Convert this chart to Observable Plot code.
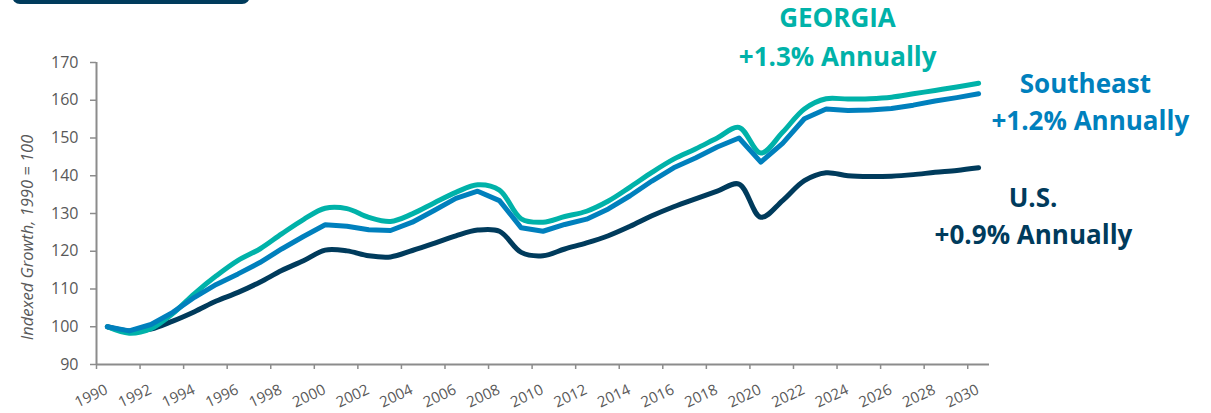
<!DOCTYPE html>
<html>
<head>
<meta charset="utf-8">
<script src="https://cdn.jsdelivr.net/npm/d3@7"></script>
<script src="https://cdn.jsdelivr.net/npm/@observablehq/plot@0.6"></script>
<style>
  body { margin: 0; background: #fff; font-family: "Open Sans", sans-serif; }
  #wrap { position: relative; width: 1211px; height: 413px; overflow: hidden; }
  #tab { position: absolute; left: 12px; top: -20px; width: 238px; height: 23.5px; background: #003B5C; border-radius: 8px; }
  #chart { position: absolute; left: 0; top: 0; }
</style>
</head>
<body>
<div id="wrap"><div id="tab"></div><div id="chart"></div></div>
<script>
// ---- data (index, 1990 = 100) ----
const years = d3.range(1990, 2031);
const georgia = [100, 98.3, 99.5, 103.5, 108.8, 113.5, 117.6, 120.6, 124.6, 128.4,
  131.4, 131.3, 129.0, 127.9, 129.9, 132.8, 135.6, 137.6, 136.2, 128.6,
  127.7, 129.2, 130.6, 133.3, 137.0, 140.9, 144.4, 147.1, 150.0, 152.8,
  146.0, 151.5, 157.7, 160.4, 160.3, 160.4, 160.8, 161.7, 162.6, 163.5, 164.5];
const southeast = [100, 98.9, 100.6, 103.8, 107.8, 111.2, 114.0, 117.0, 120.6, 123.9,
  127.0, 126.6, 125.7, 125.5, 127.7, 130.8, 134.0, 135.9, 133.4, 126.2,
  125.3, 127.1, 128.5, 131.2, 134.7, 138.6, 142.1, 144.7, 147.6, 150.0,
  143.6, 148.6, 155.1, 157.7, 157.3, 157.4, 157.8, 158.7, 159.8, 160.7, 161.7];
const us = [100, 98.9, 99.4, 101.5, 104.0, 106.8, 109.1, 111.8, 114.9, 117.5,
  120.3, 120.1, 118.8, 118.5, 120.2, 122.1, 124.1, 125.6, 125.3, 119.7,
  118.8, 120.6, 122.2, 124.1, 126.6, 129.4, 131.8, 133.9, 135.9, 137.8,
  129.0, 133.4, 138.7, 140.8, 140.0, 139.8, 139.9, 140.3, 140.9, 141.4, 142.1];
const xTickLabels = d3.range(1990, 2031, 2);
const yTickValues = d3.range(90, 171, 10);
const yAxisTitle = "Indexed Growth, 1990 = 100";

const annotationTexts = ["GEORGIA", "+1.3% Annually", "Southeast", "+1.2% Annually", "U.S.", "+0.9% Annually"];

// ---- presentation ----
const TEAL = "#00B2A9", BLUE = "#0080BD", NAVY = "#003B5C", GRAY = "#595959", AXIS = "#8C8C8C";
const annotationAnchors = [
  {x: 2023.52, y: 179.3, c: TEAL},
  {x: 2023.53, y: 169.2, c: TEAL},
  {x: 2034.9, y: 161.9, c: BLUE},
  {x: 2035.13, y: 152.0, c: BLUE},
  {x: 2032.5, y: 131.85, c: NAVY},
  {x: 2032.52, y: 121.97, c: NAVY}
];
const annotations = annotationTexts.map((t, i) => ({text: t, ...annotationAnchors[i]}));

const toRows = vals => years.map((yr, i) => ({year: yr, value: vals[i]}));
const boundaries = d3.range(1989.5, 2030.6, 2);

const chart = Plot.plot({
  width: 1211,
  height: 413,
  marginLeft: 96,
  marginRight: 222,
  marginTop: 62,
  marginBottom: 49,
  style: {fontFamily: "'Open Sans', sans-serif", fontSize: "15px", background: "transparent", overflow: "visible"},
  x: {type: "linear", domain: [1989.5, 2030.5]},
  y: {domain: [90, 170]},
  color: {type: "identity"},
  marks: [
    Plot.axisY({ticks: yTickValues, tickSize: 6, tickPadding: 12, stroke: AXIS, strokeWidth: 1.5, fill: GRAY, fontSize: 16, label: null}),
    Plot.axisX({ticks: boundaries, tickSize: 5, stroke: AXIS, strokeWidth: 1.5, fill: "none", label: null}),
    Plot.text(xTickLabels, {x: d => d, text: d => String(d), frameAnchor: "bottom", textAnchor: "end", lineAnchor: "top", rotate: -25, dx: -3, dy: 19, fill: GRAY, fontSize: 15}),
    Plot.ruleX([1989.5], {stroke: AXIS, strokeWidth: 2}),
    Plot.ruleY([90], {stroke: AXIS, strokeWidth: 2}),
    Plot.text([yAxisTitle], {frameAnchor: "left", textAnchor: "middle", lineAnchor: "middle", dx: -69, dy: 24, rotate: -90, fontStyle: "italic", fill: GRAY, fontSize: 16.5}),
    Plot.line(toRows(us), {x: "year", y: "value", stroke: NAVY, strokeWidth: 5, curve: "catmull-rom"}),
    Plot.line(toRows(georgia), {x: "year", y: "value", stroke: TEAL, strokeWidth: 5, curve: "catmull-rom"}),
    Plot.line(toRows(southeast), {x: "year", y: "value", stroke: BLUE, strokeWidth: 5, curve: "linear"}),
    Plot.text(annotations, {x: "x", y: "y", text: "text", fill: "c", fontWeight: "bold", fontSize: 26, lineAnchor: "bottom", textAnchor: "middle"})
  ]
});
document.getElementById("chart").appendChild(chart);
</script>
</body>
</html>
